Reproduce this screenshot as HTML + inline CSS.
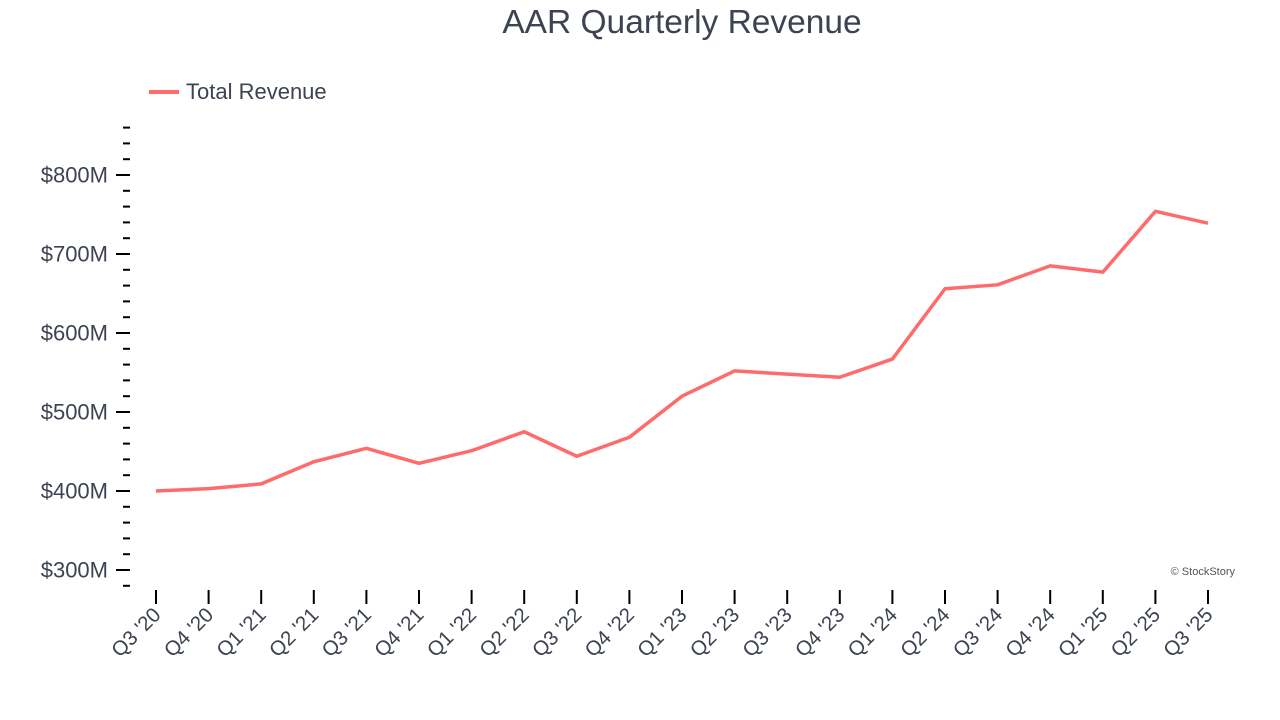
<!DOCTYPE html>
<html><head><meta charset="utf-8">
<style>
html,body{margin:0;padding:0;background:#fff;}
svg{display:block;font-family:"Liberation Sans",sans-serif;}
</style></head>
<body>
<svg id="chart" width="1280" height="720" viewBox="0 0 1280 720">
<text x="682" y="33" text-anchor="middle" font-size="33.5" fill="#3d4351">AAR Quarterly Revenue</text>
<g>
<line x1="149" y1="92" x2="179" y2="92" stroke="#ff6b6b" stroke-width="4"/>
<text x="186" y="99" font-size="22" fill="#3d4351">Total Revenue</text>
</g>
<text x="1235" y="575" text-anchor="end" font-size="11" fill="#555">© StockStory</text>
<g id="yaxis"></g>
<g id="xaxis"></g>
<g id="series"></g>
</svg>
<script>
const categories = ["Q3 '20","Q4 '20","Q1 '21","Q2 '21","Q3 '21","Q4 '21","Q1 '22","Q2 '22","Q3 '22","Q4 '22","Q1 '23","Q2 '23","Q3 '23","Q4 '23","Q1 '24","Q2 '24","Q3 '24","Q4 '24","Q1 '25","Q2 '25","Q3 '25"];
const revenue = [400,403,409,437,454,435,451,475,444,468,520,552,548,544,567,656,661,685,677,754,739];
const yTickValues = [300,400,500,600,700,800];
const yTickLabels = ["$300M","$400M","$500M","$600M","$700M","$800M"];

const NS="http://www.w3.org/2000/svg";
function y(v){return 491-(v-400)*0.79;}
function x(i){return 156+i*(1208-156)/(categories.length-1);}
function mk(t,a,p){const e=document.createElementNS(NS,t);for(const k in a)e.setAttribute(k,a[k]);p.appendChild(e);return e;}

const ya=document.getElementById('yaxis');
for(let v=280;v<=860;v+=20){
  const major=yTickValues.includes(v);
  const t=mk('line',{x1:major?116:123,x2:130,y1:y(v),y2:y(v),stroke:'#000','stroke-width':2},ya);
  
  
}
yTickValues.forEach((v,i)=>{
  const t=mk('text',{x:108,y:y(v)+7.5,'text-anchor':'end','font-size':22,fill:'#3d4351'},ya);
  t.textContent=yTickLabels[i];
  
  
});

const xa=document.getElementById('xaxis');
categories.forEach((c,i)=>{
  const l=mk('line',{x1:x(i),x2:x(i),y1:590,y2:604,stroke:'#000','stroke-width':2},xa);
  
  
  const t=mk('text',{x:x(i)+6,y:616,'text-anchor':'end','font-size':20.5,fill:'#3d4351',transform:`rotate(-45 ${x(i)+6} 616)`},xa);
  t.textContent=c;
  
  
});

const s=document.getElementById('series');
const p=mk('polyline',{points:revenue.map((v,i)=>x(i)+','+y(v)).join(' '),fill:'none',stroke:'#ff6b6b','stroke-width':3.5,'stroke-linejoin':'round'},s);


</script>
</body></html>
